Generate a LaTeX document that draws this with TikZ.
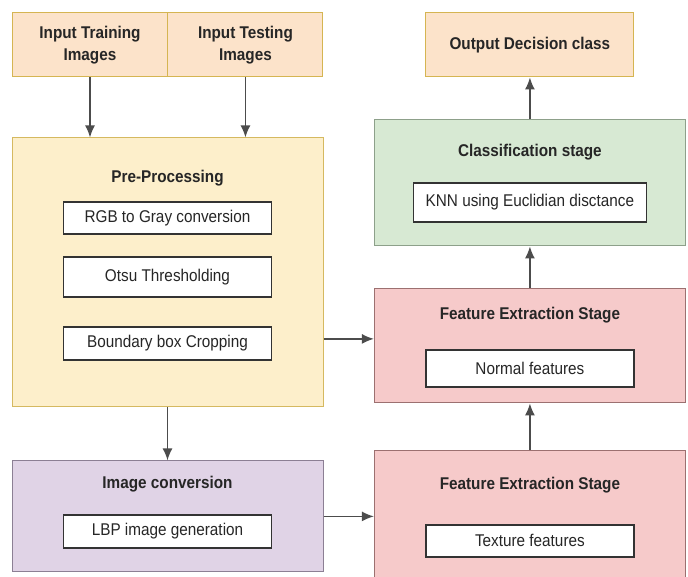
\documentclass[tikz,border=0pt]{standalone}
\usepackage{fontspec}
\setmainfont{Liberation Sans}[FakeStretch=0.9]
\usetikzlibrary{positioning}
\usetikzlibrary{arrows.meta}
\definecolor{infill}{HTML}{FCE3CA}
\definecolor{inedge}{HTML}{D5B552}
\definecolor{prefill}{HTML}{FDEFCB}
\definecolor{preedge}{HTML}{D5B960}
\definecolor{clsfill}{HTML}{D7E9D3}
\definecolor{clsedge}{HTML}{8DA08A}
\definecolor{featfill}{HTML}{F6CACA}
\definecolor{featedge}{HTML}{9C7070}
\definecolor{convfill}{HTML}{E0D3E6}
\definecolor{convedge}{HTML}{8C7F94}
\tikzset{
	inbox/.style={draw=inedge, fill=infill, line width=1pt, inner sep=0pt, minimum height=64pt, align=center, text=black!85, font=\fontsize{17pt}{22pt}\selectfont\bfseries},
	stage/.style={draw, line width=1pt, inner sep=0pt, minimum width=311pt},
	stagetitle/.style={inner sep=0pt, text=black!85, font=\fontsize{17pt}{20pt}\selectfont\bfseries},
	% white boxes inside the stages
	stepbox/.style={draw=black!80, line width=1.4pt, fill=white, inner sep=0pt, minimum width=208pt, text=black!85, font=\fontsize{17pt}{20pt}\selectfont},
}

\begin{document}
\begin{tikzpicture}
			\clip (0,0) rectangle (688pt,576pt);
			
			\node (train) [inbox, minimum width=156pt] at (90pt,531pt) {Input Training\\Images};
			\node (test) [inbox, minimum width=155pt, right of=train, xshift=127pt] {Input Testing\\Images};
			
			\node (preproc) [stage, draw=preedge, fill=prefill, minimum height=269pt, below of=train, xshift=77.5pt, yshift=-199pt] {};
			\node (pptitle) [stagetitle, above of=preproc, yshift=66pt] {Pre-Processing};
			\node (rgb) [stepbox, minimum height=32pt, below of=pptitle, yshift=-11.5pt] {RGB to Gray conversion};
			\node (otsu) [stepbox, minimum height=40pt, below of=rgb, yshift=-30.5pt] {Otsu Thresholding};
			\node (crop) [stepbox, minimum height=33pt, below of=otsu, yshift=-38pt] {Boundary box Cropping};
			
			\node (imgconv) [stage, draw=convedge, fill=convfill, minimum height=111pt, below of=preproc, yshift=-215.5pt] {};
			\node (ictitle) [stagetitle, above of=imgconv, yshift=4pt] {Image conversion};
			\node (lbp) [stepbox, minimum height=33pt, below of=ictitle, yshift=-19pt] {LBP image generation};
			
			\node (output) [inbox, minimum width=208pt, right of=test, xshift=256pt] {Output Decision class};
			
			\node (classif) [stage, draw=clsedge, fill=clsfill, minimum height=126pt, below of=output, yshift=-109.5pt] {};
			\node (cltitle) [stagetitle, above of=classif, yshift=2.5pt] {Classification stage};
			\node (knn) [stepbox, minimum width=233pt, minimum height=39pt, below of=cltitle, yshift=-22pt] {KNN using Euclidian disctance};
			
			\node (fenorm) [stage, draw=featedge, fill=featfill, minimum height=114pt, below of=classif, yshift=-134.5pt] {};
			\node (fntitle) [stagetitle, above of=fenorm, yshift=2.5pt] {Feature Extraction Stage};
			\node (normal) [stepbox, minimum height=37pt, below of=fntitle, yshift=-25pt] {Normal features};
			
			\node (fetex) [stage, draw=featedge, fill=featfill, minimum height=150pt, below of=fenorm, yshift=-151.5pt] {};
			\node (fttitle) [stagetitle, above of=fetex, yshift=12.5pt] {Feature Extraction Stage};
			\node (texture) [stepbox, minimum height=32pt, below of=fttitle, yshift=-27.5pt] {Texture features};
			
			\coordinate (pe) at ([yshift=7pt]fenorm.west);
			
			\begin{scope}[line width=1.5pt, black!70, ->, >={Latex[length=12pt,width=10pt]}]
				\draw (train.south) -- (train.south |- preproc.north);
				\draw (test.south) -- (test.south |- preproc.north);
				\draw (preproc) -- (imgconv);
				\draw (preproc.east |- pe) -- (pe);
				\draw (imgconv.east) -- (imgconv.east -| fetex.west);
				\draw (fetex) -- (fenorm);
				\draw (fenorm) -- (classif);
				\draw (classif) -- (output);
			\end{scope}
\end{tikzpicture}
\end{document}
